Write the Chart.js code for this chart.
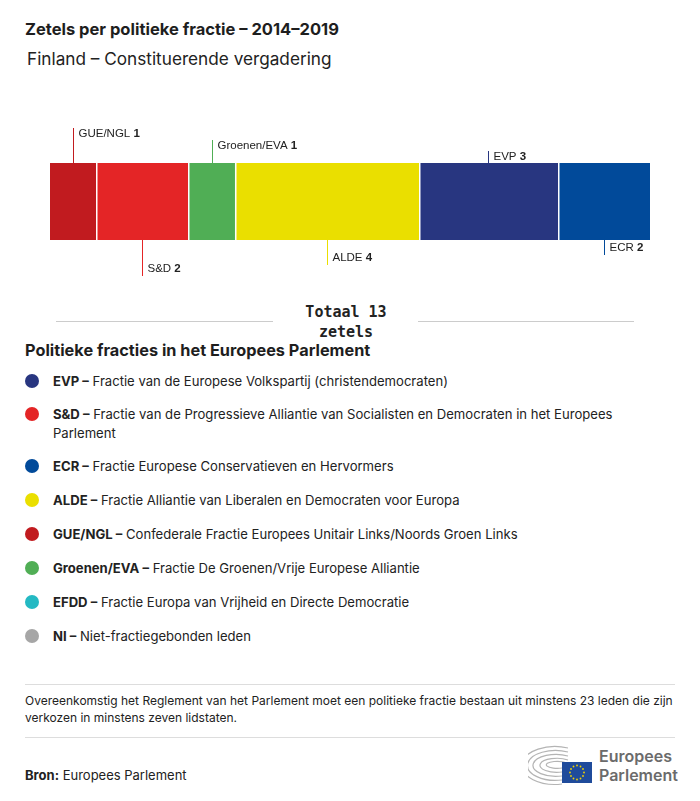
<!DOCTYPE html>
<html>
<head>
<meta charset="utf-8">
<script src="https://cdn.jsdelivr.net/npm/chart.js@4.4.0/dist/chart.umd.min.js"></script>
<style>
  html, body { margin:0; padding:0; background:#fff; }
  body { width:700px; height:801px; position:relative; overflow:hidden; font-family:"Inter","Noto Sans",sans-serif; color:#222; }
  .abs { position:absolute; }
  #title { left:25px; top:19px; font-size:16.5px; font-weight:700; color:#1e1e1e; }
  #subtitle { left:27px; top:48px; font-size:17.2px; color:#222; }
  #chartBox { left:0; top:100px; width:700px; height:190px; }
  .hr { position:absolute; height:1px; background:#ccc; }
  #total { left:290px; width:112px; top:302px; text-align:center; font-family:"DejaVu Sans Mono",monospace; font-weight:700; font-size:15px; line-height:20px; color:#222; }
  #legTitle { left:25px; top:340px; font-size:16.3px; font-weight:700; color:#1e1e1e; }
  .li { position:absolute; left:53px; width:580px; font-size:13.1px; line-height:19px; color:#222; }
  .li b { font-weight:700; }
  .dot { position:absolute; left:25px; width:14px; height:14px; border-radius:50%; }
  #note { left:25px; top:692px; width:660px; font-size:12px; line-height:17px; color:#222; }
  #bron { left:25px; top:767px; font-size:13px; color:#222; }
  #logo { left:528px; top:744px; }
</style>
</head>
<body>
<div id="title" class="abs">Zetels per politieke fractie – 2014–2019</div>
<div id="subtitle" class="abs">Finland – Constituerende vergadering</div>
<div id="chartBox" class="abs"><canvas id="c" width="700" height="190"></canvas></div>
<div class="hr" style="left:56px;width:217px;top:321px;"></div>
<div class="hr" style="left:418px;width:216px;top:321px;"></div>
<div id="total" class="abs"></div>
<div id="legTitle" class="abs">Politieke fracties in het Europees Parlement</div>
<div id="legend"></div>
<div class="hr" style="left:25px;width:650px;top:684px;background:#ddd;"></div>
<div id="note" class="abs">Overeenkomstig het Reglement van het Parlement moet een politieke fractie bestaan uit minstens 23 leden die zijn verkozen in minstens zeven lidstaten.</div>
<div class="hr" style="left:25px;width:650px;top:737px;background:#ddd;"></div>
<div id="bron" class="abs"><b>Bron:</b> Europees Parlement</div>
<div id="logo" class="abs">
  <svg width="150" height="42" viewBox="0 0 150 42">
    <g fill="none" stroke="#b4b4b4" stroke-width="1.2">
      <path d="M34 40 A33 19 0 1 1 40 4"/>
      <path d="M34 36 A28 15 0 1 1 40 8"/>
      <path d="M34 32 A23 11 0 1 1 40 12"/>
      <path d="M34 28 A17 7 0 1 1 40 16"/>
      <path d="M34 24 A11 3.5 0 1 1 40 20"/>
    </g>
    <rect x="34" y="18" width="30" height="21" fill="#1f4b9b"/>
    <g fill="#f2d200">
      <circle cx="49" cy="21.5" r="0.9"/><circle cx="52.5" cy="22.5" r="0.9"/><circle cx="55" cy="25" r="0.9"/>
      <circle cx="56" cy="28.5" r="0.9"/><circle cx="55" cy="32" r="0.9"/><circle cx="52.5" cy="34.5" r="0.9"/>
      <circle cx="49" cy="35.5" r="0.9"/><circle cx="45.5" cy="34.5" r="0.9"/><circle cx="43" cy="32" r="0.9"/>
      <circle cx="42" cy="28.5" r="0.9"/><circle cx="43" cy="25" r="0.9"/><circle cx="45.5" cy="22.5" r="0.9"/>
    </g>
    <text x="71" y="18" font-family="Inter, Noto Sans, sans-serif" font-size="16" font-weight="600" fill="#6b6b6b">Europees</text>
    <text x="71" y="37" font-family="Inter, Noto Sans, sans-serif" font-size="16" font-weight="600" fill="#6b6b6b">Parlement</text>
  </svg>
</div>

<script>
// ---- data ----
const parties   = ["GUE/NGL", "S&D", "Groenen/EVA", "ALDE", "EVP", "ECR"];
const seats     = [1, 2, 1, 4, 3, 2];
const colours   = ["#c11b1f", "#e42526", "#50ae55", "#eadf00", "#283680", "#014a9a"];
const labelSide = ["above", "below", "above", "below", "above", "below"];

const legendCodes  = ["EVP", "S&D", "ECR", "ALDE", "GUE/NGL", "Groenen/EVA", "EFDD", "NI"];
const legendNames  = [
  "Fractie van de Europese Volkspartij (christendemocraten)",
  "Fractie van de Progressieve Alliantie van Socialisten en Democraten in het Europees Parlement",
  "Fractie Europese Conservatieven en Hervormers",
  "Fractie Alliantie van Liberalen en Democraten voor Europa",
  "Confederale Fractie Europees Unitair Links/Noords Groen Links",
  "Fractie De Groenen/Vrije Europese Alliantie",
  "Fractie Europa van Vrijheid en Directe Democratie",
  "Niet-fractiegebonden leden"
];
const legendColours = ["#283680", "#e42526", "#014a9a", "#eadf00", "#c11b1f", "#50ae55", "#24b9c3", "#a6a6a6"];

// ---- HTML bits ----
document.getElementById("total").innerHTML = "Totaal " + seats.reduce((a,b)=>a+b,0) + "<br>zetels";
const legTops = [372, 405, 457, 491, 525, 559, 593, 627];
const leg = document.getElementById("legend");
legendCodes.forEach((c, i) => {
  const d = document.createElement("div");
  d.className = "dot";
  d.style.top = (legTops[i] + 2) + "px";
  d.style.background = legendColours[i];
  leg.appendChild(d);
  const t = document.createElement("div");
  t.className = "li";
  t.style.top = legTops[i] + "px";
  t.innerHTML = "<b>" + c.replace("&","&amp;") + " –</b> " + legendNames[i];
  leg.appendChild(t);
});

// ---- chart ----
const leaderLen = [35, 36, 23, 25, 12, 15];
const labelPlugin = {
  id: "segLabels",
  afterDatasetsDraw(chart) {
    const ctx = chart.ctx;
    chart.data.datasets.forEach((ds, i) => {
      if (i === 0) return;
      const el = chart.getDatasetMeta(i).data[0];
      const xb = Math.round(el.base);
      ctx.save();
      ctx.fillStyle = "#ffffff";
      ctx.fillRect(xb, el.y - el.height / 2, 1.5, el.height);
      ctx.restore();
    });
    chart.data.datasets.forEach((ds, i) => {
      const el = chart.getDatasetMeta(i).data[0];
      const x0 = Math.min(el.base, el.x), x1 = Math.max(el.base, el.x);
      const cx = Math.round((x0 + x1) / 2) + 0.5;
      const top = el.y - el.height / 2, bot = el.y + el.height / 2;
      const len = leaderLen[i];
      ctx.save();
      ctx.strokeStyle = colours[i];
      ctx.lineWidth = 1;
      ctx.beginPath();
      let ty;
      if (labelSide[i] === "above") {
        ctx.moveTo(cx, top); ctx.lineTo(cx, top - len); ty = top - len + 6;
      } else {
        ctx.moveTo(cx, bot); ctx.lineTo(cx, bot + len); ty = bot + len - 7;
      }
      ctx.stroke();
      ctx.textBaseline = "middle";
      ctx.fillStyle = "#222";
      ctx.font = "11.5px 'Liberation Sans', Arial, sans-serif";
      const name = ds.label + " ";
      ctx.fillText(name, cx + 5, ty);
      const w = ctx.measureText(name).width;
      ctx.font = "bold 11.5px 'Liberation Sans', Arial, sans-serif";
      ctx.fillText(String(ds.data[0]), cx + 5 + w, ty);
      ctx.restore();
    });
  }
};

new Chart(document.getElementById("c"), {
  type: "bar",
  data: {
    labels: ["Finland"],
    datasets: parties.map((p, i) => ({
      label: p,
      data: [seats[i]],
      backgroundColor: colours[i],
      borderWidth: 0,
      barPercentage: 1,
      categoryPercentage: 1
    }))
  },
  options: {
    indexAxis: "y",
    responsive: false,
    animation: false,
    layout: { padding: { left: 50, right: 50, top: 63, bottom: 50 } },
    plugins: { legend: { display: false }, tooltip: { enabled: false } },
    scales: {
      x: { stacked: true, min: 0, max: seats.reduce((a,b)=>a+b,0), display: false },
      y: { stacked: true, display: false }
    }
  },
  plugins: [labelPlugin]
});
</script>
</body>
</html>
